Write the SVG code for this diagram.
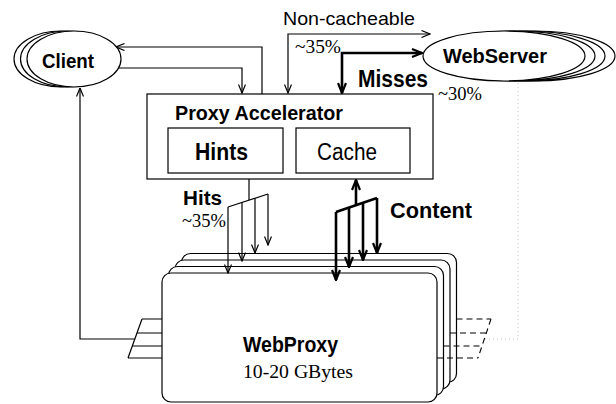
<svg xmlns="http://www.w3.org/2000/svg" width="616" height="404" viewBox="0 0 616 404">
<style>
.bg{fill:#fff}
.shape{fill:#fff;stroke:#000;stroke-width:1.2}
.ln{fill:none;stroke:#000;stroke-width:1.2}
.thick{fill:none;stroke:#000;stroke-width:2.6}
.dash{fill:none;stroke:#000;stroke-width:1.1;stroke-dasharray:6 4}
.dot{fill:none;stroke:#c8c8c8;stroke-width:1;stroke-dasharray:1 3}
.b{font-family:"Liberation Sans",Arial,sans-serif;font-weight:bold;fill:#000}
.r{font-family:"Liberation Sans",Arial,sans-serif;fill:#000}
.s{font-family:"Liberation Serif","Times New Roman",serif;fill:#000}
</style>
<defs>
<marker id="a" viewBox="0 0 10 8" refX="9.5" refY="4" markerWidth="10" markerHeight="8" markerUnits="userSpaceOnUse" orient="auto-start-reverse">
<path d="M1,0.5 L9.5,4 L1,7.5" fill="none" stroke="#000" stroke-width="1.2"/>
</marker>
<marker id="at" viewBox="0 0 12 10" refX="11" refY="5" markerWidth="12" markerHeight="10" markerUnits="userSpaceOnUse" orient="auto-start-reverse">
<path d="M1,1 L11,5 L1,9" fill="none" stroke="#000" stroke-width="2.2"/>
</marker>
</defs>
<rect class="bg" x="0" y="0" width="616" height="404"/>

<g id="client">
<ellipse class="shape" cx="61" cy="59" rx="47" ry="28"/>
<ellipse class="shape" cx="67.5" cy="59" rx="47" ry="28"/>
<ellipse class="shape" cx="74" cy="59" rx="47" ry="28"/>
<text class="b" x="42" y="68" font-size="21" textLength="52" lengthAdjust="spacingAndGlyphs">Client</text>
</g>

<g id="webserver">
<ellipse class="shape" cx="534" cy="56" rx="81" ry="25"/>
<ellipse class="shape" cx="524" cy="56" rx="81" ry="25"/>
<ellipse class="shape" cx="514" cy="56" rx="81" ry="25"/>
<ellipse class="shape" cx="504" cy="56" rx="81" ry="25"/>
<text class="b" x="443" y="63" font-size="21" textLength="104" lengthAdjust="spacingAndGlyphs">WebServer</text>
</g>

<g id="proxy-accelerator">
<rect class="shape" x="147" y="94" width="286" height="85"/>
<text class="b" x="175" y="120" font-size="21" textLength="168" lengthAdjust="spacingAndGlyphs">Proxy Accelerator</text>
<g id="hints">
<rect class="shape" x="168" y="128" width="115" height="45"/>
<text class="b" x="195" y="160" font-size="23" textLength="53" lengthAdjust="spacingAndGlyphs">Hints</text>
</g>
<g id="cache">
<rect class="shape" x="296" y="128" width="114" height="45"/>
<text class="r" x="317" y="160" font-size="23" textLength="60" lengthAdjust="spacingAndGlyphs">Cache</text>
</g>
</g>

<g id="webproxy">
<rect class="shape" x="181.5" y="253.5" width="275" height="129" rx="9"/>
<rect class="shape" x="175" y="260" width="275" height="129" rx="9"/>
<rect class="shape" x="168.5" y="266.5" width="275" height="129" rx="9"/>
<rect class="shape" x="162" y="273" width="275" height="129" rx="9"/>
<text class="b" x="243" y="352" font-size="22" textLength="95" lengthAdjust="spacingAndGlyphs">WebProxy</text>
<text class="s" x="243" y="378" font-size="18" textLength="110" lengthAdjust="spacingAndGlyphs">10-20 GBytes</text>
</g>

<g id="connectors">
<path class="ln" d="M119,68 H242 V93" marker-end="url(#a)"/>
<path class="ln" d="M262,94 V47 H116" marker-end="url(#a)"/>
<path class="ln" d="M288,93 V34 H430" marker-start="url(#a)" marker-end="url(#a)"/>
<path class="thick" d="M342,93 V53 H422" marker-start="url(#at)" marker-end="url(#at)"/>

<path class="ln" d="M249,179 V200"/>
<path class="ln" d="M228,207 L268,194"/>
<path class="ln" d="M228,207 V273" marker-end="url(#a)"/>
<path class="ln" d="M242,202.5 V261" marker-end="url(#a)"/>
<path class="ln" d="M255,198.2 V253" marker-end="url(#a)"/>
<path class="ln" d="M268,194 V245" marker-end="url(#a)"/>

<path class="thick" d="M356,205 V180" marker-end="url(#at)"/>
<path class="thick" d="M336,212 L377,198"/>
<path class="thick" d="M336,212 V280" marker-end="url(#at)"/>
<path class="thick" d="M349,207.6 V267" marker-end="url(#at)"/>
<path class="thick" d="M363,202.8 V260" marker-end="url(#at)"/>
<path class="thick" d="M377,198 V253" marker-end="url(#at)"/>

<path class="ln" d="M142,319 L128,358"/>
<path class="ln" d="M142,319 H162 M137,333 H162 M132.5,346 H162 M128,358 H162"/>
<path class="ln" d="M134.8,339 H80 V88" marker-end="url(#a)"/>

<path class="dash" d="M491,319 L478,358"/>
<path class="dash" d="M456.5,319 H491 M450,333 H486.3 M443.5,346 H481.7 M437,358 H478"/>
<path class="dot" d="M485,339 H518 V83"/>
</g>

<g id="labels">
<text class="r" x="283" y="25" font-size="19" textLength="132" lengthAdjust="spacingAndGlyphs">Non-cacheable</text>
<text class="s" x="295" y="53" font-size="18" textLength="46" lengthAdjust="spacingAndGlyphs">~35%</text>
<text class="b" x="358" y="87" font-size="23" textLength="70" lengthAdjust="spacingAndGlyphs">Misses</text>
<text class="s" x="438" y="100" font-size="18" textLength="44" lengthAdjust="spacingAndGlyphs">~30%</text>
<text class="b" x="183" y="205" font-size="21" textLength="39" lengthAdjust="spacingAndGlyphs">Hits</text>
<text class="s" x="182" y="227" font-size="18" textLength="44" lengthAdjust="spacingAndGlyphs">~35%</text>
<text class="b" x="390" y="218" font-size="22" textLength="82" lengthAdjust="spacingAndGlyphs">Content</text>
</g>
</svg>
